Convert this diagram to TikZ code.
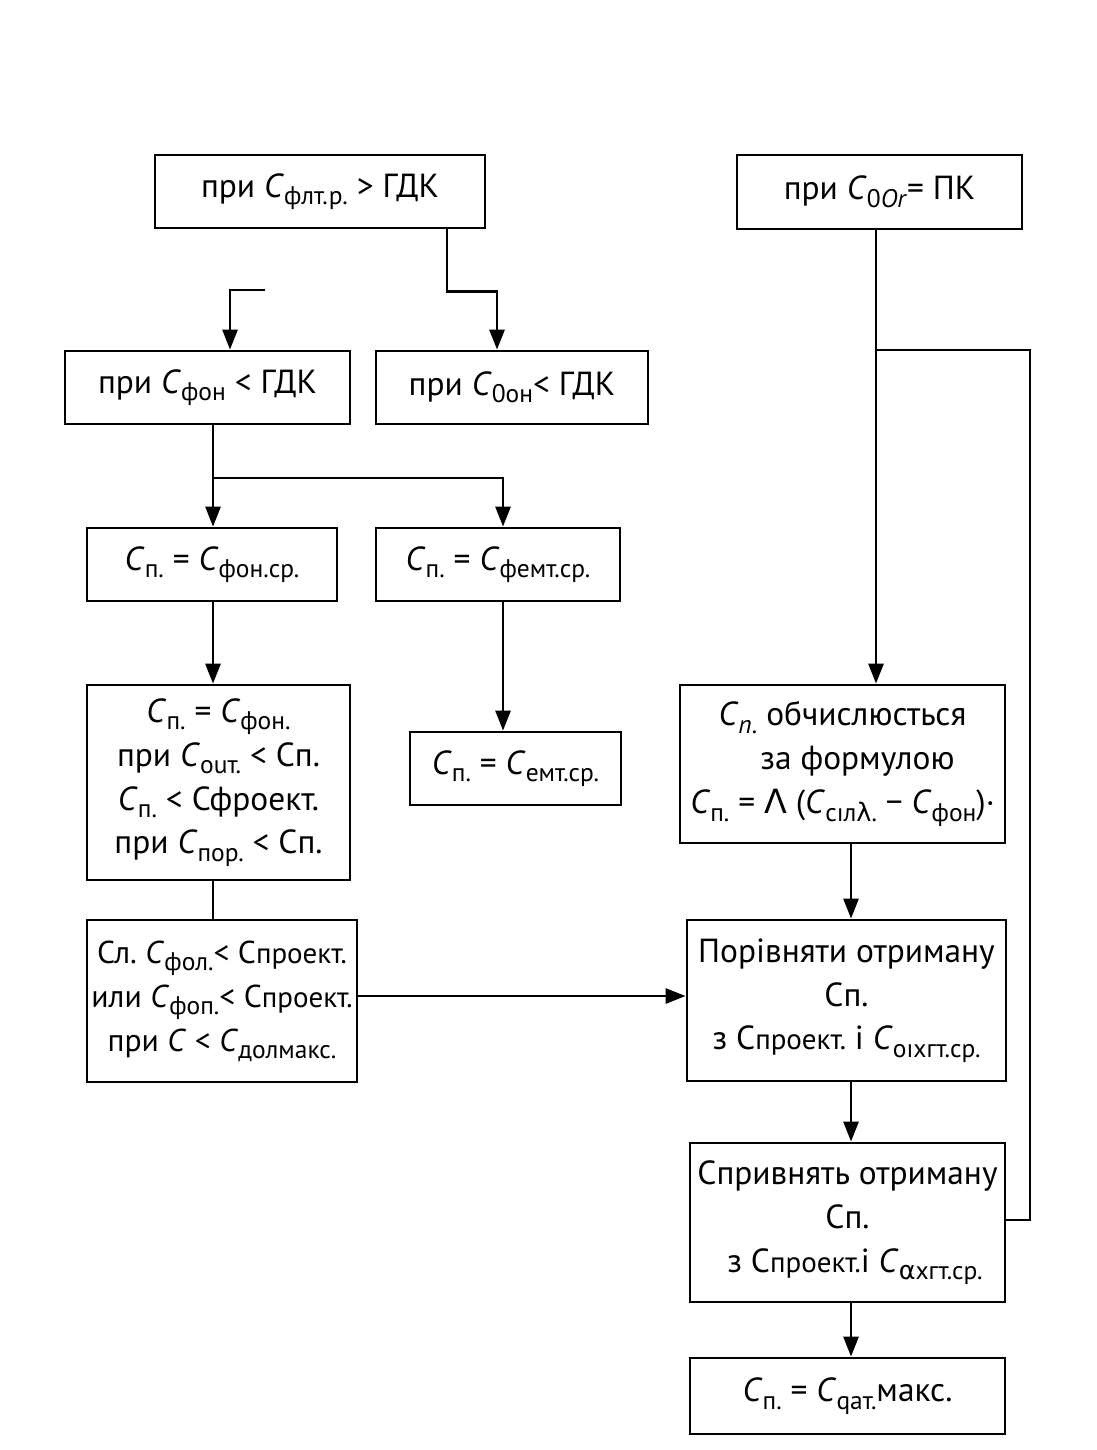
\documentclass[tikz,border=0pt]{standalone}
\usepackage{fontspec}
\setmainfont{PT Sans}
\newfontfamily\grk{DejaVu Sans}
\usetikzlibrary{arrows.meta}
\frenchspacing
\newcommand{\Ci}[1]{\textit{C}\raisebox{-0.45ex}{\fontsize{14.5}{15}\selectfont #1}}
\newcommand{\Cpr}{С{\fontsize{16.5}{17}\selectfont проект.}}
\begin{document}
\begin{tikzpicture}[line width=1.6pt,>={Triangle[length=4mm,width=3mm]}]
	\tikzstyle{blok}=[draw, inner sep=0pt, align=center, font=\fontsize{19}{25}\selectfont]
	\useasboundingbox (0,0) rectangle (21.94,-29);
	
	% verkhni umovy
	\node[blok, minimum width=6.6cm, minimum height=1.46cm] (b1) at (6.4,-3.83) {при \Ci{флт.р.} > ГДК};
	\node[blok, minimum width=5.7cm, minimum height=1.48cm] (b2) at (17.59,-3.84) {при \Ci{0\textit{Or}}= ПК};
	\node[blok, minimum width=5.7cm, minimum height=1.46cm] (b3) at (4.15,-7.75) {при \Ci{фон} < ГДК};
	\node[blok, minimum width=5.44cm, minimum height=1.46cm] (b4) at (10.24,-7.75) {при \Ci{0он}< ГДК};
	
	% livyi stovpets
	\node[blok, minimum width=5.0cm, minimum height=1.46cm] (b5) at (4.24,-11.29) {\Ci{п.} = \Ci{фон.ср.}};
	\node[blok, minimum width=4.88cm, minimum height=1.46cm] (b6) at (9.96,-11.29) {\Ci{п.} = \Ci{фемт.ср.}};
	\node[blok, minimum width=5.26cm, minimum height=3.9cm] (b7) at (4.37,-15.65)
		{\Ci{п.} = \Ci{фон.}\\ при \Ci{оuт.} < Сп.\\ \Ci{п.} < Сфроект.\\ при \Ci{пор.} < Сп.};
	\node[blok, minimum width=4.22cm, minimum height=1.46cm] (b8) at (10.31,-15.37) {\Ci{п.} = \Ci{емт.ср.}};
	\node[blok, minimum width=5.4cm, minimum height=3.24cm, font=\fontsize{18}{25}\selectfont] (b10) at (4.44,-20.02)
		{Сл. \Ci{фол.}< \Cpr\\ или \Ci{фоп.}< \Cpr\\ при \textit{C} < \Ci{долмакс.}};
	
	% pravyi stovpets
	\node[blok, minimum width=6.5cm, minimum height=3.16cm] (b9) at (16.85,-15.28)
		{\Ci{\textit{п.}} обчислюсться\\ \hspace*{0.6cm}за формулою\\ \Ci{п.} = {\grk Λ} (\Ci{сıл{\grk λ}.} − \Ci{фон})·};
	\node[blok, minimum width=6.38cm, minimum height=3.22cm] (b11) at (16.93,-20.01)
		{Порівняти отриману\\ Сп.\\ з \Cpr{} і \Ci{оıхгт.ср.}};
	\node[blok, minimum width=6.3cm, minimum height=3.18cm] (b12) at (16.95,-24.45)
		{Спривнять отриману\\ Сп.\\ \hspace*{0.3cm}з \Cpr{}і \Ci{{\grk α}хгт.ср.}};
	\node[blok, minimum width=6.3cm, minimum height=1.52cm] (b13) at (16.95,-27.92) {\Ci{п.} = \Ci{qат.}макс.};
	
	% tochky rozgaluzhennia
	\coordinate (stub) at (5.3,-5.8);
	\coordinate (split) at (4.26,-9.56);
	\coordinate (fb) at (17.52,-7.0);
	
	% zviazky
	\draw[->] ([xshift=2.54cm]b1.south) -- ++(0,-1.24) -| ([xshift=-0.3cm]b4.north);
	\draw[->] (stub) -| ([xshift=0.45cm]b3.north);
	\draw (b3.south -| split) -- (split);
	\draw[->] (split) -- (b5.north -| split);
	\draw[->] (split) -| ([xshift=0.1cm]b6.north);
	\draw[->] (b5.south -| split) -- (b7.north -| split);
	\draw[->] ([xshift=0.1cm]b6.south) -- ([xshift=0.1cm]b6.south |- b8.north);
	\draw (b7.south -| split) -- (b10.north -| split);
	\draw[->] ([yshift=0.1cm]b10.east) -- ([yshift=0.1cm]b10.east -| b11.west);
	\draw[->] ([xshift=-0.07cm]b2.south) -- ([xshift=-0.07cm]b2.south |- b9.north);
	\draw (fb) -- ++(3.08,0) |- ([yshift=0.05cm]b12.east);
	\draw[->] ([xshift=0.17cm]b9.south) -- ([xshift=0.17cm]b9.south |- b11.north);
	\draw[->] ([xshift=0.09cm]b11.south) -- ([xshift=0.09cm]b11.south |- b12.north);
	\draw[->] ([xshift=0.07cm]b12.south) -- ([xshift=0.07cm]b12.south |- b13.north);
\end{tikzpicture}
\end{document}
